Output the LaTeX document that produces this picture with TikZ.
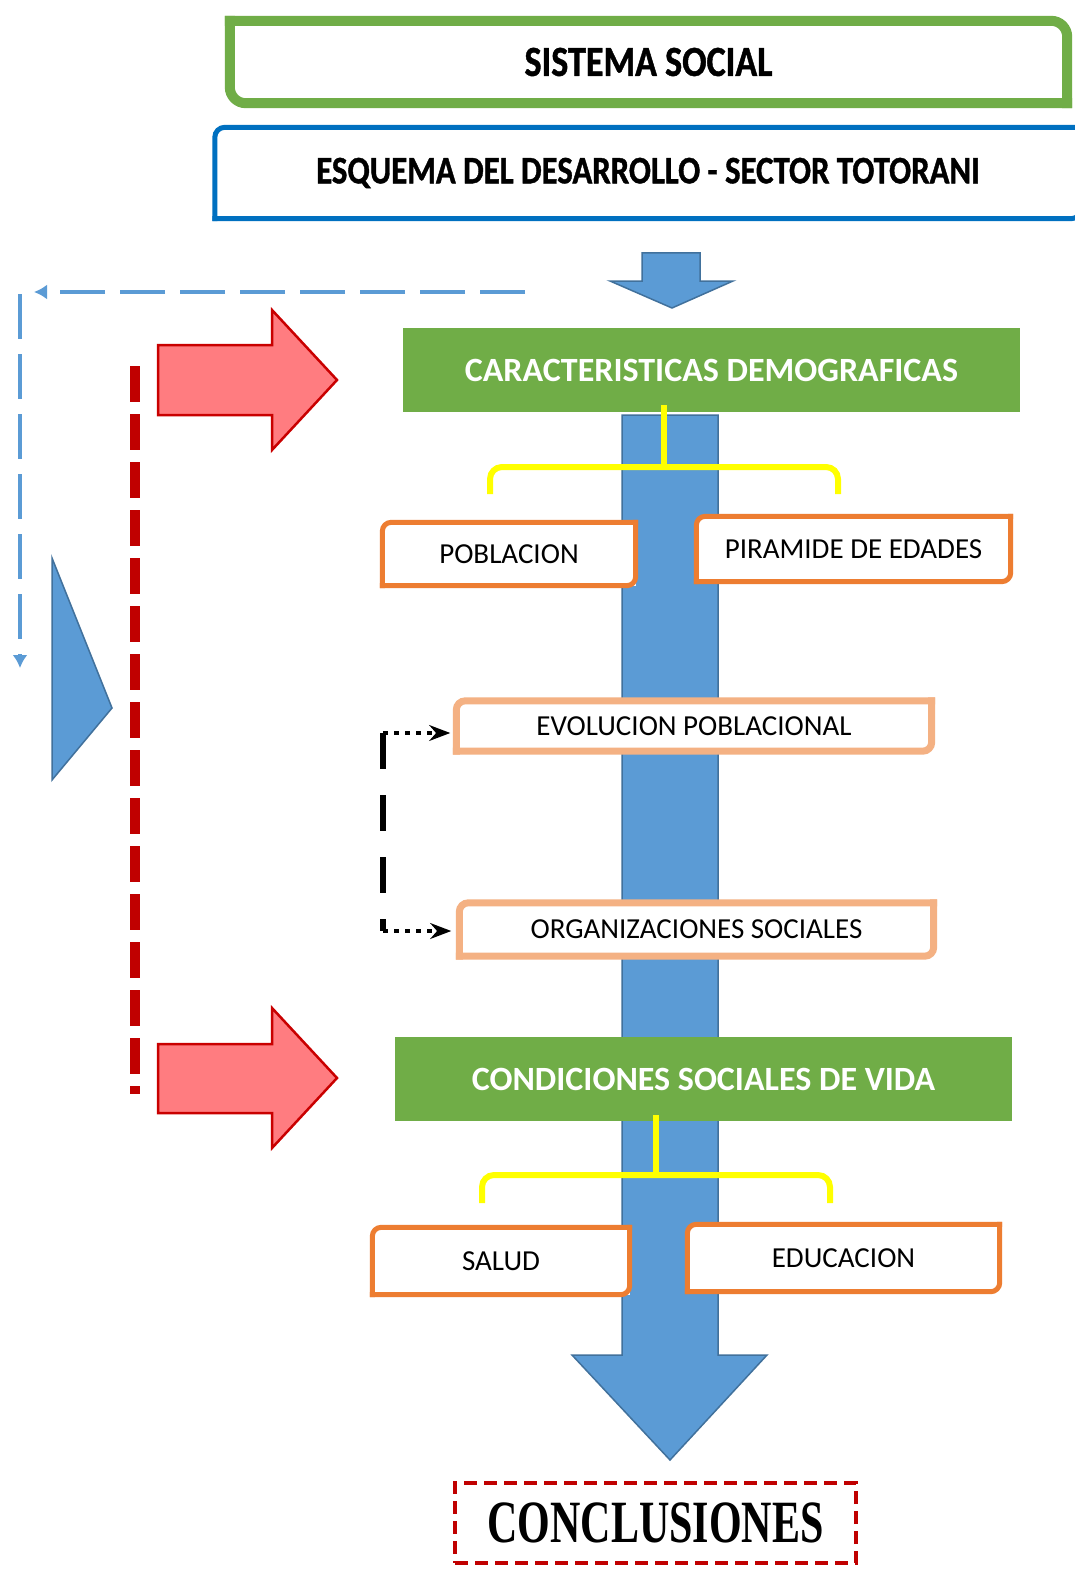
\documentclass[tikz,border=0pt]{standalone}
\usepackage{fontspec}
\setmainfont{Carlito}
\newfontfamily\headfont[FakeStretch=0.84,FakeBold=1]{Carlito}
\newfontfamily\conclfont[FakeStretch=0.70]{Liberation Serif}
\usetikzlibrary{arrows.meta}
\definecolor{sgreen}{HTML}{70AD47}
\definecolor{sblue}{HTML}{0070C0}
\definecolor{arrowblue}{HTML}{5B9BD5}
\definecolor{arrowedge}{HTML}{41719C}
\definecolor{spink}{HTML}{FF7C80}
\definecolor{sred}{HTML}{C00000}
\definecolor{sorange}{HTML}{ED7D31}
\definecolor{lorange}{HTML}{F4B183}
\definecolor{syellow}{HTML}{FFFF00}
\newcommand{\bigtitle}[1]{{\headfont\bfseries\fontsize{43}{45}\selectfont #1}}
\newcommand{\subtitle}[1]{{\headfont\bfseries\fontsize{39}{41}\selectfont #1}}
\newcommand{\greentitle}[1]{{\bfseries\fontsize{34}{36}\selectfont #1}}
\newcommand{\itemtext}[1]{{\fontsize{29}{31}\selectfont #1}}
% outline rounded at north east and south west only
\newcommand{\roundne}[2]{%
    \draw[#2] (#1.north west) -- (#1.north east) -- (#1.south east);
    \draw[#2] (#1.south east) -- (#1.south west) -- (#1.north west);}
% outline rounded at north west and south east only
\newcommand{\roundnw}[2]{%
    \draw[#2] (#1.south west) -- (#1.north west) -- (#1.north east);
    \draw[#2] (#1.north east) -- (#1.south east) -- (#1.south west);}

\begin{document}
\begin{tikzpicture}[
    x=1pt, y=-1pt,
    plainbox/.style={
        rectangle,
        inner sep=0pt,
        align=center
    },
    greenbox/.style={
        plainbox,
        fill=sgreen,
        text=white,
        minimum width=617,
        minimum height=84
    },
    itembox/.style={
        plainbox,
        fill=white
    },
    frame/.style={
        rounded corners=12,
        line cap=rect
    },
    blockblue/.style={
        fill=arrowblue,
        draw=arrowedge,
        line width=1.5
    },
    blockred/.style={
        fill=spink,
        draw=sred!85!red,
        line width=2.5
    },
    bracket/.style={
        draw=syellow,
        line width=6
    },
    feedback/.style={
        draw=arrowblue,
        line width=4.5,
        dash pattern=on 45 off 15,
        -{Latex[length=13,width=15]}
    },
    >=Stealth
]

    \fill[white] (0,0) rectangle (1075,1570);
    \useasboundingbox (0,0) rectangle (1075,1570);

    % --- 1) Title boxes ---
    \node[plainbox, minimum width=837, minimum height=82] (sis) at (648.5,62)
        {\bigtitle{SISTEMA SOCIAL}};
    \roundne{sis}{frame, draw=sgreen, line width=10, rounded corners=16}

    \node[plainbox, minimum width=866, minimum height=91] (esq) at (648,173)
        {\subtitle{ESQUEMA DEL DESARROLLO - SECTOR TOTORANI}};
    \roundnw{esq}{frame, draw=sblue, line width=5, rounded corners=10}

    % --- 2) Block arrows ---
    \draw[blockblue] (642,253) -- (700,253) -- (700,281) -- (733,281)
        -- (672,308) -- (610,281) -- (642,281) -- cycle;

    \draw[blockblue] (622,415) -- (718,415) -- (718,1355) -- (767,1355)
        -- (670,1460) -- (572,1355) -- (622,1355) -- cycle;

    \draw[blockblue] (52,558) -- (112,708) -- (52,780) -- cycle;

    \draw[blockred] (158,345) -- (272,345) -- (272,310) -- (337,380)
        -- (272,450) -- (272,415) -- (158,415) -- cycle;
    \draw[blockred] (158,1044) -- (272,1044) -- (272,1008) -- (337,1078)
        -- (272,1148) -- (272,1113) -- (158,1113) -- cycle;

    % --- 3) Feedback lines ---
    \coordinate (fbstart) at (525,292);
    \coordinate (fbturn)  at (34,292);
    \coordinate (fbtop)   at (20,294);
    \coordinate (fbend)   at (20,668);
    \draw[feedback] (fbstart) -- (fbturn);
    \draw[feedback] (fbtop) -- (fbend);

    \coordinate (redtop) at (135,366);
    \coordinate (redbot) at (135,1094);
    \draw[sred, line width=10, dash pattern=on 36 off 12] (redtop) -- (redbot);

    % --- 4) Demographic characteristics ---
    \node[greenbox] (dem) at (711.5,370) {\greentitle{CARACTERISTICAS DEMOGRAFICAS}};

    \draw[bracket] (664,405) -- (664,467);
    \draw[bracket, rounded corners=12] (490,494) -- (490,467) -- (838,467) -- (838,494);

    \node[itembox, minimum width=253, minimum height=63] (pob) at (509,554)
        {\itemtext{POBLACION}};
    \roundnw{pob}{frame, draw=sorange, line width=5, rounded corners=9}

    \node[itembox, minimum width=314, minimum height=65] (pir) at (853.5,549)
        {\itemtext{PIRAMIDE DE EDADES}};
    \roundnw{pir}{frame, draw=sorange, line width=5, rounded corners=9}

    \node[itembox, minimum width=475, minimum height=50] (evo) at (694,726)
        {\itemtext{EVOLUCION POBLACIONAL}};
    \roundnw{evo}{frame, draw=lorange, line width=7, rounded corners=9}

    \node[itembox, minimum width=474, minimum height=53] (org) at (696.5,929.5)
        {\itemtext{ORGANIZACIONES SOCIALES}};
    \roundnw{org}{frame, draw=lorange, line width=7, rounded corners=9}

    % link between evolution and organisations
    \coordinate (lnktop) at (383,733);
    \coordinate (lnkbot) at (383,931);
    \draw[line width=5.5, dash pattern=on 36 off 26] (lnktop) -- (lnkbot);
    \draw[line width=4, dash pattern=on 5 off 6, ->, shorten >=6]
        (lnktop) -- (lnktop -| evo.west);
    \draw[line width=4, dash pattern=on 5 off 6, ->, shorten >=8]
        (lnkbot) -- (lnkbot -| org.west);

    % --- 5) Social living conditions ---
    \node[greenbox] (cond) at (703.5,1079) {\greentitle{CONDICIONES SOCIALES DE VIDA}};

    \draw[bracket] (656,1115) -- (656,1175);
    \draw[bracket, rounded corners=12] (482,1203) -- (482,1175) -- (830,1175) -- (830,1203);

    \node[itembox, minimum width=257, minimum height=67] (sal) at (501,1261)
        {\itemtext{SALUD}};
    \roundnw{sal}{frame, draw=sorange, line width=5, rounded corners=9}

    \node[itembox, minimum width=312, minimum height=67] (edu) at (843.5,1258)
        {\itemtext{EDUCACION}};
    \roundnw{edu}{frame, draw=sorange, line width=5, rounded corners=9}

    % --- 6) Conclusions ---
    \node[plainbox, draw=sred, line width=4, dash pattern=on 13 off 7,
          minimum width=401, minimum height=80] (concl) at (655.5,1523)
        {\conclfont\bfseries\fontsize{60}{62}\selectfont CONCLUSIONES};

\end{tikzpicture}
\end{document}
